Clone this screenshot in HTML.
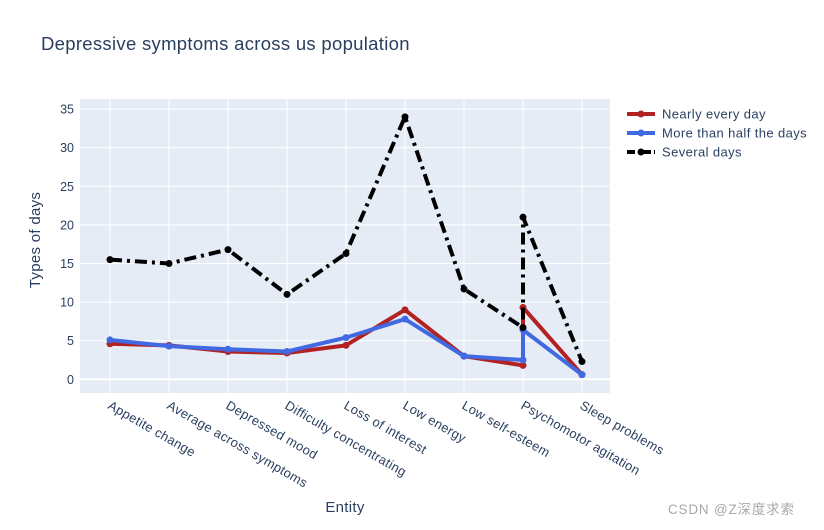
<!DOCTYPE html>
<html><head><meta charset="utf-8"><style>
body{margin:0;background:#fff;font-family:"Liberation Sans",sans-serif}
</style></head><body>
<svg id="chart" width="824" height="525" xmlns="http://www.w3.org/2000/svg" style="font-family:'Liberation Sans',sans-serif">
<text x="41" y="50" font-size="18.5" fill="#2a3f5f" letter-spacing="0.3">Depressive symptoms across us population</text>
<rect x="80" y="99" width="530" height="294" fill="#e5ecf6"/>
<g id="grid"></g><g id="series"></g><g id="ticks"></g>
<text x="40" y="240" font-size="15" fill="#2a3f5f" text-anchor="middle" letter-spacing="0.3" transform="rotate(-90 40 240)">Types of days</text>
<text x="345" y="512" font-size="15" fill="#2a3f5f" text-anchor="middle" letter-spacing="0.3">Entity</text>
<text x="668" y="514" font-size="13.5" fill="#a8a8a8" letter-spacing="0.8" style="font-family:'Liberation Sans','Noto Sans CJK SC',sans-serif">CSDN @Z深度求索</text>
<g id="legend"></g>
</svg>
<script>
const categories=["Appetite change","Average across symptoms","Depressed mood","Difficulty concentrating","Loss of interest","Low energy","Low self-esteem","Psychomotor agitation","Psychomotor agitation","Sleep problems"];
const catIndex=[0,1,2,3,4,5,6,7,7,8];
const xLabels=["Appetite change","Average across symptoms","Depressed mood","Difficulty concentrating","Loss of interest","Low energy","Low self-esteem","Psychomotor agitation","Sleep problems"];
const nearlyEveryDay=[4.6,4.4,3.6,3.4,4.4,9.0,3.0,1.8,9.3,0.6];
const moreThanHalf=[5.1,4.3,3.9,3.6,5.4,7.8,3.0,2.5,6.4,0.6];
const severalDays=[15.5,15.0,16.8,11.0,16.3,34.0,11.7,6.7,21.0,2.3];
const yTicks=[0,5,10,15,20,25,30,35];
const seriesNames=["Nearly every day","More than half the days","Several days"];
const NS="http://www.w3.org/2000/svg";
const X=i=>110+i*59, Y=v=>379.3-v*7.72;
function mk(t,a,p){const e=document.createElementNS(NS,t);for(const k in a)e.setAttribute(k,a[k]);document.getElementById(p).appendChild(e);return e;}
yTicks.forEach(v=>{
 const l=mk('line',{x1:80,x2:610,y1:Y(v),y2:Y(v),stroke:'#fff','stroke-width':v===0?2:1},'grid');
 
 
 const t=mk('text',{x:74,y:Y(v)+4.5,'font-size':12.5,fill:'#2a3f5f','text-anchor':'end'},'ticks');t.textContent=v;
 
 
});
xLabels.forEach((c,i)=>{
 const l=mk('line',{x1:X(i),x2:X(i),y1:99,y2:393,stroke:'#fff','stroke-width':1},'grid');
 
 
 const t=mk('text',{x:X(i)-3,y:408,'font-size':13,'letter-spacing':0.3,fill:'#2a3f5f',transform:`rotate(30 ${X(i)-3} 408)`},'ticks');t.textContent=c;
 
 
});
const styles=[{d:nearlyEveryDay,c:'#b22222',dash:''},{d:moreThanHalf,c:'#4169e1',dash:''},{d:severalDays,c:'#000',dash:'12,5,3,5'}];
styles.forEach((s,k)=>{
 const pts=s.d.map((v,i)=>X(catIndex[i])+','+Y(v)).join(' ');
 const pl=mk('polyline',{points:pts,fill:'none',stroke:s.c,'stroke-width':4,'stroke-dasharray':s.dash,'stroke-linejoin':'round'},'series');
 
 
 s.d.forEach((v,i)=>{const c=mk('circle',{cx:X(catIndex[i]),cy:Y(v),r:3.5,fill:s.c},'series');
  
  });
 const ly=114+k*19;
 const ll=mk('line',{x1:627,x2:655,y1:ly,y2:ly,stroke:s.c,'stroke-width':4,'stroke-dasharray':s.dash?'8,3,2,3':''},'legend');
 
 
 const lc=mk('circle',{cx:641,cy:ly,r:3.5,fill:s.c},'legend');
 
 
 const lt=mk('text',{x:662,y:ly+4.5,'font-size':13,'letter-spacing':0.4,fill:'#2a3f5f'},'legend');lt.textContent=seriesNames[k];
 
 
});
</script>
</body></html>
